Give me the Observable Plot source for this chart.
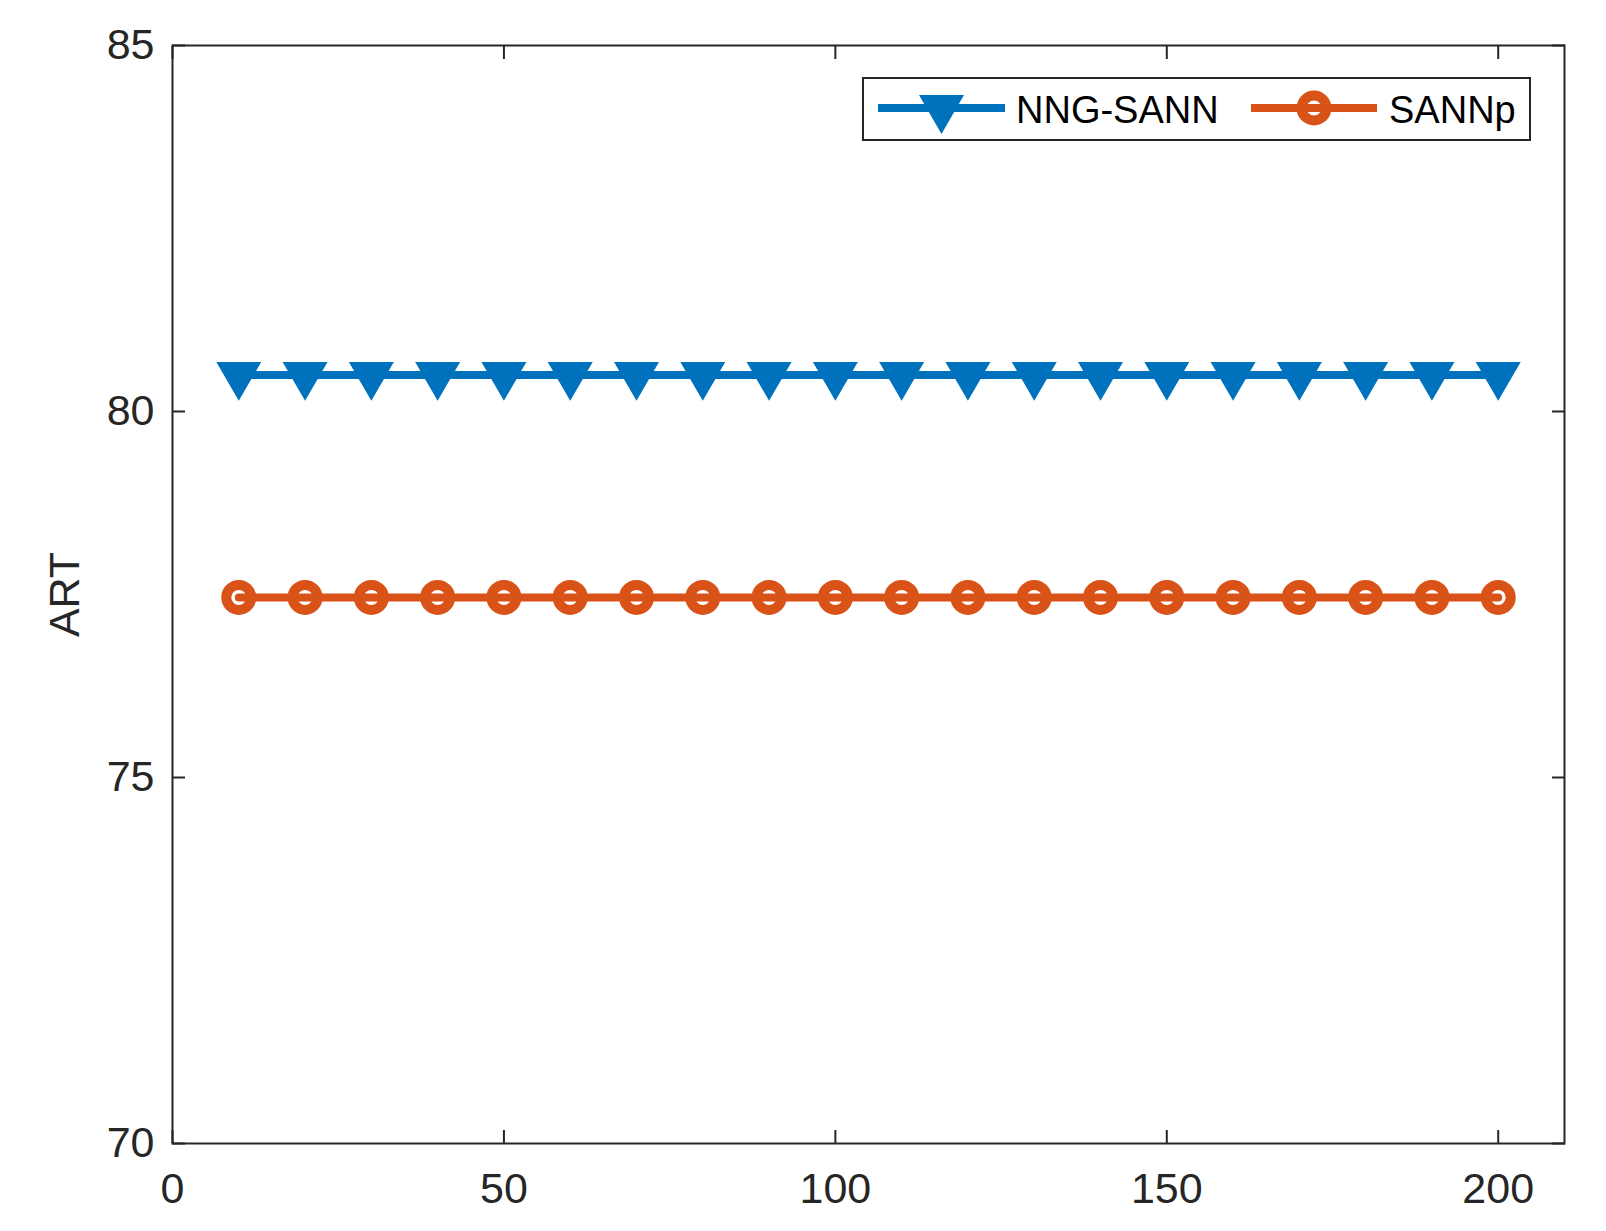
<!DOCTYPE html>
<html><head><meta charset="utf-8">
<script src="https://cdn.jsdelivr.net/npm/d3@7"></script>
<script src="https://cdn.jsdelivr.net/npm/@observablehq/plot@0.6"></script>
<style>
body{margin:0;background:#fff;}
#wrap{position:relative;width:1606px;height:1231px;}
#legend{position:absolute;left:0;top:0;pointer-events:none;}
</style></head><body><div id="wrap"></div>
<script>
const xValues = [10, 20, 30, 40, 50, 60, 70, 80, 90, 100, 110, 120, 130, 140, 150, 160, 170, 180, 190, 200];
const nngSann = [80.5, 80.5, 80.5, 80.5, 80.5, 80.5, 80.5, 80.5, 80.5, 80.5, 80.5, 80.5, 80.5, 80.5, 80.5, 80.5, 80.5, 80.5, 80.5, 80.5];
const sannp = [77.46, 77.46, 77.46, 77.46, 77.46, 77.46, 77.46, 77.46, 77.46, 77.46, 77.46, 77.46, 77.46, 77.46, 77.46, 77.46, 77.46, 77.46, 77.46, 77.46];
const seriesNames = ["NNG-SANN", "SANNp"];
const xTicks = [0, 50, 100, 150, 200];
const yTicks = [70, 75, 80, 85];
const xDomain = [0, 210];
const yDomain = [70, 85];

const BLUE = "#0072BD", ORANGE = "#D95319", INK = "#262626";
const FONT = "'Liberation Sans', Arial, Helvetica, sans-serif";

const triangleDown = {
  draw(context, size) {
    const y = Math.sqrt(size / (3 * Math.sqrt(3)));
    context.moveTo(0, 2 * y);
    context.lineTo(-Math.sqrt(3) * y, -y);
    context.lineTo(Math.sqrt(3) * y, -y);
    context.closePath();
  }
};

const dataA = xValues.map((x, i) => ({x, y: nngSann[i]}));
const dataB = xValues.map((x, i) => ({x, y: sannp[i]}));

const chart = Plot.plot({
  width: 1606,
  height: 1231,
  marginLeft: 172,
  marginRight: 42,
  marginTop: 45,
  marginBottom: 88,
  style: {fontFamily: FONT, color: INK, background: "white", overflow: "visible"},
  x: {domain: xDomain},
  y: {domain: yDomain},
  marks: [
    Plot.axisX(xTicks, {anchor: "bottom", tickSize: -13, tickFormat: () => "", label: null, strokeWidth: 2}),
    Plot.axisX(xTicks, {anchor: "top", tickSize: -13, tickFormat: () => "", label: null, strokeWidth: 2}),
    Plot.axisX(xTicks, {anchor: "bottom", tickSize: 0, tickPadding: 29, fontSize: 43, label: null, tickFormat: "d"}),
    Plot.axisY(yTicks, {anchor: "left", tickSize: -13, tickFormat: () => "", label: null, strokeWidth: 2}),
    Plot.axisY(yTicks, {anchor: "right", tickSize: -13, tickFormat: () => "", label: null, strokeWidth: 2}),
    Plot.axisY(yTicks, {anchor: "left", tickSize: 0, tickPadding: 18, fontSize: 43, tickFormat: "d", label: "ART", labelAnchor: "center", labelArrow: "none", labelOffset: 124}),
    Plot.frame({stroke: INK, strokeWidth: 2}),
    Plot.line(dataA, {x: "x", y: "y", stroke: BLUE, strokeWidth: 8}),
    Plot.dot(dataA, {x: "x", y: "y", symbol: triangleDown, r: 16.7, fill: BLUE}),
    Plot.line(dataB, {x: "x", y: "y", stroke: ORANGE, strokeWidth: 8}),
    Plot.dot(dataB, {x: "x", y: "y", symbol: "circle", r: 12.5, stroke: ORANGE, strokeWidth: 10, fill: "none"})
  ]
});
const wrap = document.getElementById("wrap");
wrap.appendChild(chart);

// Legend overlay (inside the axes, top right, as in the reference)
const lg = d3.select(wrap).append("svg").attr("id", "legend")
  .attr("width", 1606).attr("height", 1231);
lg.append("rect").attr("x", 863).attr("y", 78).attr("width", 667).attr("height", 62)
  .attr("fill", "white").attr("stroke", INK).attr("stroke-width", 2);
const items = [
  {name: seriesNames[0], color: BLUE, x0: 878, x1: 1005, tx: 1016, kind: "tri"},
  {name: seriesNames[1], color: ORANGE, x0: 1251, x1: 1377, tx: 1389, kind: "circ"}
];
const ly = 108;
items.forEach(it => {
  lg.append("line").attr("x1", it.x0).attr("x2", it.x1).attr("y1", ly).attr("y2", ly)
    .attr("stroke", it.color).attr("stroke-width", 8);
  const cx = (it.x0 + it.x1) / 2;
  if (it.kind === "tri") {
    lg.append("path").attr("d", d3.symbol(triangleDown, Math.PI * 16.7 * 16.7)())
      .attr("transform", `translate(${cx},${ly})`).attr("fill", it.color);
  } else {
    lg.append("circle").attr("cx", cx).attr("cy", ly).attr("r", 12.5)
      .attr("fill", "none").attr("stroke", it.color).attr("stroke-width", 10);
  }
  lg.append("text").attr("x", it.tx).attr("y", 122.5).text(it.name)
    .attr("font-family", FONT).attr("font-size", 38).attr("fill", "black");
});
</script></body></html>
